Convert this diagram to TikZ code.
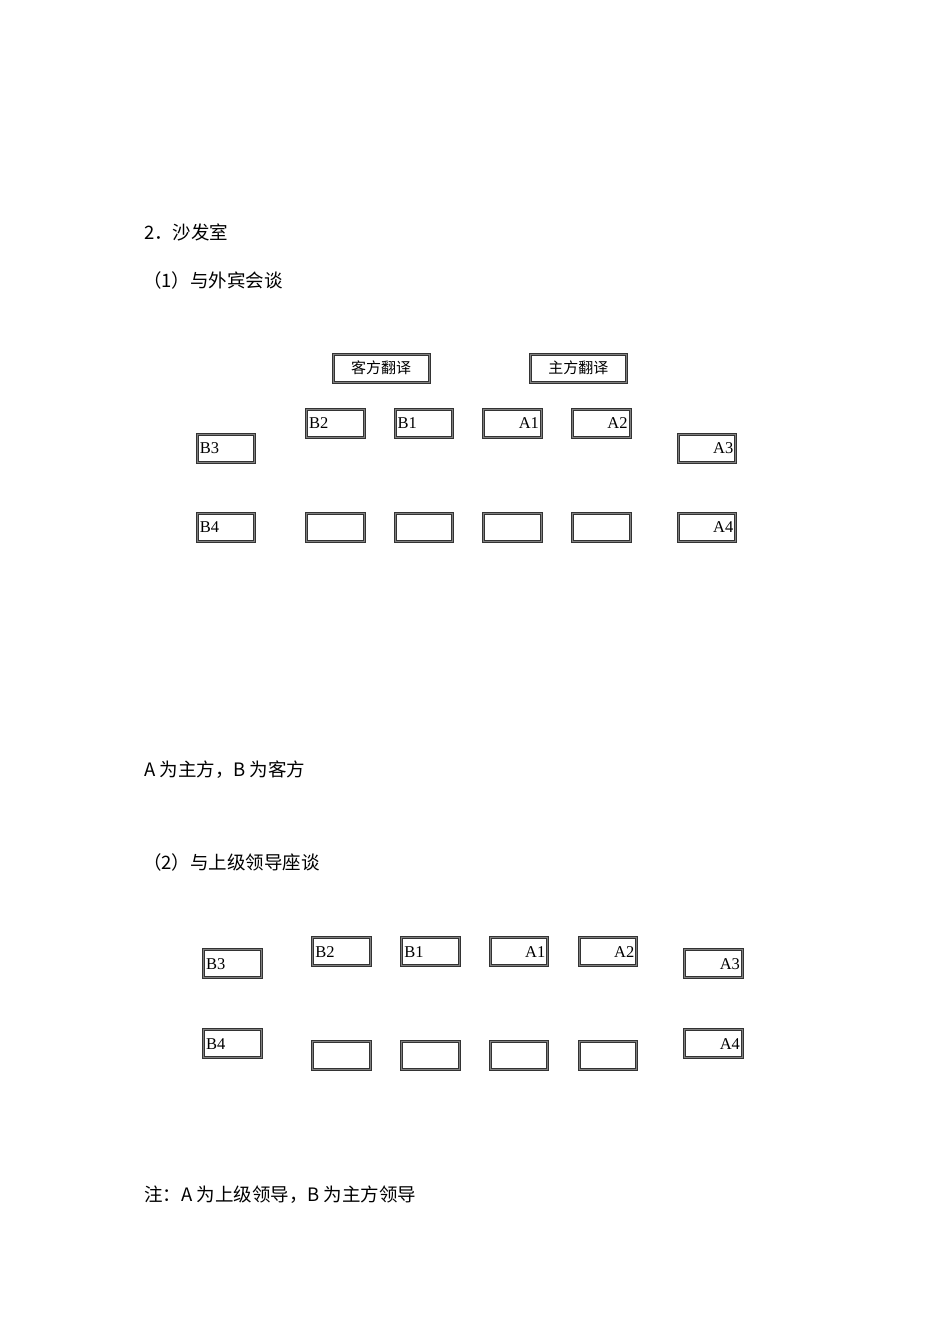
\documentclass[tikz,border=0pt]{standalone}
\usepackage{fontspec}
\setmainfont{Liberation Serif}
\newfontfamily\cjk{Noto Sans CJK SC}
\begin{document}
\begin{tikzpicture}[x=1pt,y=-1pt,
  seat/.style={draw=black!80, line width=1pt, double=black!50, double distance=1pt,
    minimum height=28pt, inner xsep=2.5pt, inner ysep=0pt, text width=52.5pt,
    font=\fontsize{16.5}{17}\selectfont, anchor=center},
  lseat/.style={seat, align=left},
  rseat/.style={seat, align=right},
  trans/.style={draw=black!80, line width=1pt, double=black!50, double distance=1pt,
    minimum height=28pt, minimum width=96pt, inner sep=0pt,
    font=\cjk\fontsize{15}{16}\selectfont},
  body/.style={anchor=west, inner sep=0pt, font=\cjk\fontsize{18.5}{20}\selectfont}]
\useasboundingbox (0,0) rectangle (950,1344);
% headings
\node[body] (h1) at (144,232) {2．沙发室};
\node[body] (h2) at (143,280) {（1）与外宾会谈};
\node[body] (n1) at (144,770) {A 为主方，B 为客方};
\node[body] (h3) at (143,862) {（2）与上级领导座谈};
\node[body] (n2) at (144,1195) {注：A 为上级领导，B 为主方领导};
% diagram 1
\node[trans] (kf) at (381,368) {客方翻译};
\node[trans] (zf) at (578.3,368) {主方翻译};
\node[lseat] (ib2) at (335.3,423) {B2};
\node[lseat] (ib1) at (423.8,423) {B1};
\node[rseat] (ia1) at (512.7,423) {A1};
\node[rseat] (ia2) at (601.3,423) {A2};
\node[lseat] (ib3) at (226.2,448) {B3};
\node[rseat] (ia3) at (707,448) {A3};
\node[lseat] (ib4) at (226.2,527.3) {B4};
\node[seat] (ie1) at (335.3,527.3) {};
\node[seat] (ie2) at (423.8,527.3) {};
\node[seat] (ie3) at (512.7,527.3) {};
\node[seat] (ie4) at (601.3,527.3) {};
\node[rseat] (ia4) at (707,527.3) {A4};
% diagram 2
\node[lseat] (jb3) at (232.3,963.7) {B3};
\node[lseat] (jb2) at (341.7,951.7) {B2};
\node[lseat] (jb1) at (430.7,951.7) {B1};
\node[rseat] (ja1) at (519,951.7) {A1};
\node[rseat] (ja2) at (608,951.7) {A2};
\node[rseat] (ja3) at (713.7,963.7) {A3};
\node[lseat] (jb4) at (232.3,1043.7) {B4};
\node[seat] (je1) at (341.7,1055.8) {};
\node[seat] (je2) at (430.7,1055.8) {};
\node[seat] (je3) at (519,1055.8) {};
\node[seat] (je4) at (608,1055.8) {};
\node[rseat] (ja4) at (713.7,1043.7) {A4};
\end{tikzpicture}
\end{document}
